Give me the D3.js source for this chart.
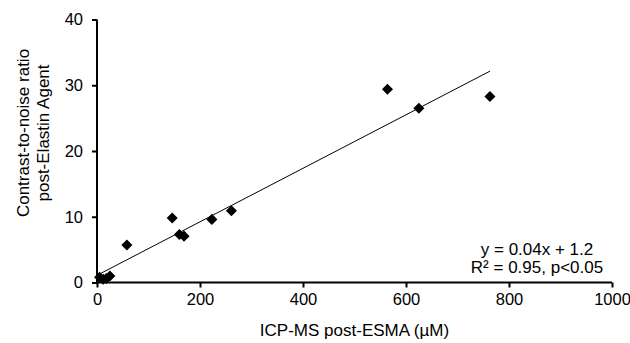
<!DOCTYPE html>
<html>
<head>
<meta charset="utf-8">
<script src="https://cdn.jsdelivr.net/npm/d3@7"></script>
<style>
  body { margin: 0; background: #fff; }
  svg text { font-family: "Liberation Sans", Arial, sans-serif; fill: #000; }
</style>
</head>
<body>
<svg id="chart" width="630" height="343"></svg>
<script>
// Data: ICP-MS (uM) vs contrast-to-noise ratio
var icpValues = [5, 12, 18, 25, 58, 146, 160, 169, 223, 261, 564, 625, 763];
var cnrValues = [0.8, 0.5, 0.6, 1.0, 5.7, 9.8, 7.3, 7.05, 9.6, 10.9, 29.4, 26.5, 28.3];
var xTicks = [0, 200, 400, 600, 800, 1000];
var yTicks = [0, 10, 20, 30, 40];
var fitLabels = ["y = 0.04x + 1.2", "R\u00b2 = 0.95, p<0.05"];

var margin = { top: 19.5, right: 18, bottom: 60.5, left: 97 };
var width = 630 - margin.left - margin.right;
var height = 343 - margin.top - margin.bottom;

var svg = d3.select("#chart");
var g = svg.append("g").attr("transform", `translate(${margin.left},${margin.top})`);

var x = d3.scaleLinear().domain([0, 1000]).range([0, width]);
var y = d3.scaleLinear().domain([0, 40]).range([height, 0]);

// axes
var xAxis = g.append("g")
  .attr("transform", `translate(0,${height})`)
  .call(d3.axisBottom(x).tickValues(xTicks).tickSize(5).tickPadding(6).tickFormat(d3.format("d")));
var yAxis = g.append("g")
  .call(d3.axisLeft(y).tickValues(yTicks).tickSize(5).tickPadding(9).tickFormat(d3.format("d")));

[xAxis, yAxis].forEach(ax => {
  ax.select(".domain").attr("stroke", "#000").attr("stroke-width", 2);
  ax.selectAll(".tick line").attr("stroke", "#000").attr("stroke-width", 2);
  ax.selectAll(".tick text").style("font-size", "16.5px").attr("fill", "#000");
});
xAxis.select(".domain").attr("d", `M0,0H${width}`);
yAxis.select(".domain").attr("d", `M0,${height}V0`);

// least squares trend line over the data range
var points = icpValues.map((v, i) => ({ x: v, y: cnrValues[i] }));
var mx = d3.mean(icpValues), my = d3.mean(cnrValues);
var sxy = d3.sum(points, p => (p.x - mx) * (p.y - my));
var sxx = d3.sum(points, p => (p.x - mx) * (p.x - mx));
var slope = sxy / sxx;
var intercept = my - slope * mx;
var xExt = d3.extent(icpValues);

g.append("line")
  .attr("x1", x(xExt[0])).attr("y1", y(intercept + slope * xExt[0]))
  .attr("x2", x(xExt[1])).attr("y2", y(intercept + slope * xExt[1]))
  .attr("stroke", "#000").attr("stroke-width", 1);

// diamond markers
var diamond = d3.symbol().type(d3.symbolSquare).size(61);
g.selectAll(".pt")
  .data(points)
  .enter().append("path")
  .attr("class", "pt")
  .attr("d", diamond)
  .attr("transform", d => `translate(${x(d.x)},${y(d.y)}) rotate(45)`)
  .attr("fill", "#000");

// fit annotation
g.append("text")
  .attr("text-anchor", "middle")
  .attr("x", 537 - margin.left)
  .attr("y", 255 - margin.top)
  .style("font-size", "17px")
  .selectAll("tspan")
  .data(fitLabels)
  .enter().append("tspan")
  .attr("x", 537 - margin.left)
  .attr("dy", (d, i) => i === 0 ? 0 : 18)
  .text(d => d);

// axis titles
svg.append("text")
  .attr("x", margin.left + width / 2)
  .attr("y", 336)
  .attr("text-anchor", "middle")
  .style("font-size", "17px")
  .text("ICP-MS post-ESMA (\u00b5M)");

var yTitle = svg.append("text")
  .attr("transform", "translate(29,133) rotate(-90)")
  .attr("text-anchor", "middle")
  .style("font-size", "17px");
yTitle.append("tspan").attr("x", 0).attr("dy", 0).text("Contrast-to-noise ratio");
yTitle.append("tspan").attr("x", 0).attr("dy", 20).text("post-Elastin Agent");
</script>
</body>
</html>
